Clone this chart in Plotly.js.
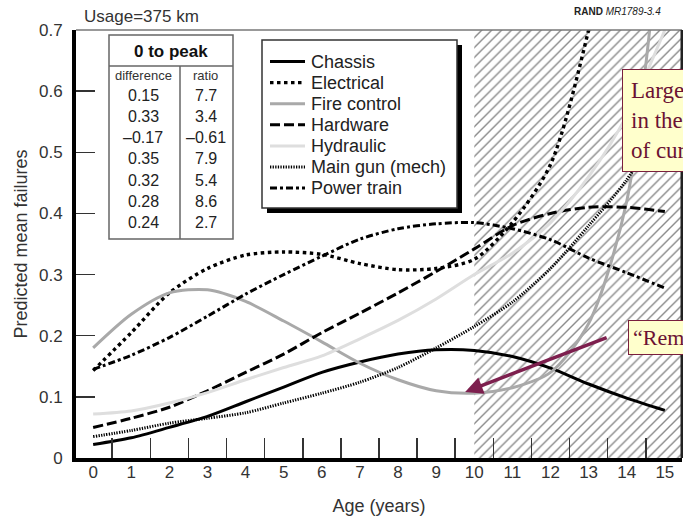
<!DOCTYPE html>
<html>
<head>
<meta charset="utf-8">
<script src="https://cdn.plot.ly/plotly-3.0.1.min.js"></script>
<style>
  html, body { margin: 0; padding: 0; background: #fff; }
  #chart { width: 683px; height: 521px; }
</style>
</head>
<body>
<div id="chart"></div>
<script>
// ---- data ----
const ages = [0, 1, 2, 3, 4, 5, 6, 7, 8, 9, 10, 11, 12, 13, 14, 15];
const chassis     = [0.022, 0.033, 0.050, 0.068, 0.092, 0.116, 0.140, 0.157, 0.170, 0.177, 0.176, 0.166, 0.147, 0.121, 0.098, 0.078];
const electrical  = [0.143, 0.205, 0.270, 0.310, 0.332, 0.337, 0.333, 0.318, 0.308, 0.310, 0.325, 0.385, 0.480, 0.700, 1.000, 1.400];
const fireControl = [0.180, 0.235, 0.270, 0.275, 0.256, 0.224, 0.190, 0.155, 0.128, 0.110, 0.106, 0.115, 0.140, 0.220, 0.420, 0.950];
const hardware    = [0.050, 0.065, 0.083, 0.110, 0.140, 0.170, 0.205, 0.237, 0.270, 0.305, 0.342, 0.380, 0.400, 0.410, 0.410, 0.403];
const hydraulic   = [0.072, 0.077, 0.090, 0.107, 0.128, 0.148, 0.167, 0.195, 0.225, 0.260, 0.300, 0.335, 0.385, 0.460, 0.560, 0.700];
const mainGun     = [0.035, 0.045, 0.057, 0.065, 0.074, 0.090, 0.106, 0.124, 0.148, 0.180, 0.215, 0.255, 0.310, 0.380, 0.455, 0.560];
const powerTrain  = [0.145, 0.168, 0.197, 0.232, 0.268, 0.300, 0.330, 0.358, 0.375, 0.383, 0.385, 0.375, 0.357, 0.327, 0.303, 0.278];

const seriesNames = ['Chassis', 'Electrical', 'Fire control', 'Hardware', 'Hydraulic', 'Main gun (mech)', 'Power train'];

// "0 to peak" table
const tableTitle = '0 to peak';
const tableHeaders = ['difference', 'ratio'];
const differences = ['0.15', '0.33', '–0.17', '0.35', '0.32', '0.28', '0.24'];
const ratios = ['7.7', '3.4', '–0.61', '7.9', '5.4', '8.6', '2.7'];

const yTickVals = [0, 0.1, 0.2, 0.3, 0.4, 0.5, 0.6, 0.7];
const yTickText = ['0', '0.1', '0.2', '0.3', '0.4', '0.5', '0.6', '0.7'];

// projected (hatched) period
const projectionStart = 10;
const projectionEnd = 15.6;

// ---- layout helpers (pixel -> paper) ----
const M = {l: 76, r: 1, t: 30, b: 63};
const W = 683, H = 521;
const PW = W - M.l - M.r, PH = H - M.t - M.b;
const X = px => (px - M.l) / PW;
const Y = py => (H - M.b - py) / PH;

const FONT = 'Liberation Sans, Arial, Helvetica, sans-serif';
const SERIF = 'Liberation Serif, Times New Roman, serif';

const styles = [
  {color: '#000000', dash: 'solid', width: 3},
  {color: '#000000', dash: '3.5px,3.5px', width: 3.4},
  {color: '#a9a9a9', dash: 'solid', width: 3},
  {color: '#000000', dash: '10px,4px', width: 3},
  {color: '#dedede', dash: 'solid', width: 3},
  {color: '#000000', dash: '1.3px,1.3px', width: 3},
  {color: '#000000', dash: '7px,3px,3px,3px', width: 3}
];
const seriesData = [chassis, electrical, fireControl, hardware, hydraulic, mainGun, powerTrain];

const traces = [{
  x: [projectionStart, projectionEnd, projectionEnd, projectionStart, projectionStart],
  y: [0, 0, yTickVals[yTickVals.length - 1], yTickVals[yTickVals.length - 1], 0],
  mode: 'lines', line: {width: 0, color: 'rgba(0,0,0,0)'},
  fill: 'toself', fillcolor: 'rgba(255,255,255,0)',
  fillpattern: {shape: '/', size: 7, fgcolor: '#8a8a8a', bgcolor: '#ffffff', solidity: 0.2},
  showlegend: false, hoverinfo: 'skip'
}];
seriesNames.forEach((name, i) => {
  traces.push({
    x: ages, y: seriesData[i], name: name, mode: 'lines', showlegend: false,
    line: {color: styles[i].color, dash: styles[i].dash, width: styles[i].width, shape: 'spline', smoothing: 0.8}
  });
});

const shapes = [
  // top border
  {type: 'line', xref: 'paper', yref: 'paper', x0: 0, x1: 1, y0: 1, y1: 1, line: {color: '#777', width: 1.5}},
  // right border
  {type: 'line', xref: 'paper', yref: 'paper', x0: 1, x1: 1, y0: 0, y1: 1, line: {color: '#222', width: 3}},
  // table box
  {type: 'rect', xref: 'paper', yref: 'paper', x0: X(109), x1: X(233), y0: Y(239), y1: Y(35), line: {color: '#666', width: 1.5}, fillcolor: '#fff'},
  {type: 'line', xref: 'paper', yref: 'paper', x0: X(109), x1: X(233), y0: Y(66), y1: Y(66), line: {color: '#666', width: 1.5}},
  {type: 'line', xref: 'paper', yref: 'paper', x0: X(180), x1: X(180), y0: Y(66), y1: Y(239), line: {color: '#666', width: 1.5}},
  // legend shadow + box
  {type: 'rect', xref: 'paper', yref: 'paper', x0: X(267), x1: X(462), y0: Y(213), y1: Y(45), line: {width: 0}, fillcolor: '#000'},
  {type: 'rect', xref: 'paper', yref: 'paper', x0: X(262), x1: X(457), y0: Y(208), y1: Y(40), line: {color: '#333', width: 1.5}, fillcolor: '#fff'}
];

const annotations = [
  {xref: 'paper', yref: 'paper', x: X(171), y: Y(52), text: '<b>' + tableTitle + '</b>', showarrow: false, xanchor: 'center', yanchor: 'middle', font: {family: FONT, size: 17, color: '#111'}},
  {xref: 'paper', yref: 'paper', x: X(143), y: Y(75), text: tableHeaders[0], showarrow: false, xanchor: 'center', yanchor: 'middle', font: {family: FONT, size: 13, color: '#333'}},
  {xref: 'paper', yref: 'paper', x: X(205), y: Y(75), text: tableHeaders[1], showarrow: false, xanchor: 'center', yanchor: 'middle', font: {family: FONT, size: 13, color: '#333'}},
  // top-left label and source
  {xref: 'paper', yref: 'paper', x: X(82), y: Y(17), text: 'Usage=375 km', showarrow: false, xanchor: 'left', yanchor: 'middle', font: {family: FONT, size: 17, color: '#333'}},
  {xref: 'paper', yref: 'paper', x: X(572), y: Y(12), text: '<b>RAND</b> <i>MR1789-3.4</i>', showarrow: false, xanchor: 'left', yanchor: 'middle', font: {family: FONT, size: 10, color: '#222'}},
  // callout boxes
  {xref: 'paper', yref: 'paper', x: X(622), y: Y(69), text: 'Large variance<br>in the tails<br>of curves', align: 'left', showarrow: false, xanchor: 'left', yanchor: 'top',
   bgcolor: '#ffffcc', bordercolor: '#7a1f3d', borderwidth: 1, borderpad: 8, font: {family: SERIF, size: 23, color: '#6b1233'}},
  {xref: 'paper', yref: 'paper', x: X(628), y: Y(320), text: '“Remanufactured”', align: 'left', showarrow: false, xanchor: 'left', yanchor: 'top',
   bgcolor: '#ffffcc', bordercolor: '#7a1f3d', borderwidth: 1, borderpad: 4, font: {family: SERIF, size: 22, color: '#6b1233'}},
  // arrow
  {xref: 'x', yref: 'y', x: 9.76, y: 0.108, ax: 143, ay: -55, text: '', showarrow: true, arrowhead: 2, arrowsize: 1, arrowwidth: 3.5, arrowcolor: '#7d1f4e'}
];
differences.forEach((d, i) => {
  const py = 95 + i * 21.3;
  annotations.push({xref: 'paper', yref: 'paper', x: X(143), y: Y(py), text: d, showarrow: false, xanchor: 'center', yanchor: 'middle', font: {family: FONT, size: 16, color: '#222'}});
  annotations.push({xref: 'paper', yref: 'paper', x: X(206), y: Y(py), text: ratios[i], showarrow: false, xanchor: 'center', yanchor: 'middle', font: {family: FONT, size: 16, color: '#222'}});
});

// custom legend (boxed, with drop shadow)
seriesNames.forEach((name, i) => {
  const py = 61.5 + i * 21.1;
  shapes.push({type: 'line', xref: 'paper', yref: 'paper', x0: X(270), x1: X(305), y0: Y(py), y1: Y(py),
    line: {color: styles[i].color, dash: styles[i].dash, width: styles[i].width}});
  annotations.push({xref: 'paper', yref: 'paper', x: X(309), y: Y(py), text: name, showarrow: false, xanchor: 'left', yanchor: 'middle',
    font: {family: FONT, size: 18, color: '#222'}});
});

const layout = {
  width: W, height: H, margin: M,
  paper_bgcolor: '#fff', plot_bgcolor: '#fff',
  font: {family: FONT, color: '#222'},
  showlegend: false,
  xaxis: {
    range: [-0.45, 15.45], tickmode: 'array', tickvals: ages, ticktext: ages.map(String),
    ticks: '', showgrid: false, zeroline: false,
    showline: true, linecolor: '#000', linewidth: 4,
    tickfont: {family: FONT, size: 17, color: '#333'}, ticklabelstandoff: -4,
    minor: {tick0: 0.5, dtick: 1, ticks: 'inside', ticklen: 20, tickwidth: 1.5, tickcolor: '#333', showgrid: false},
    title: {text: 'Age (years)', font: {family: FONT, size: 18, color: '#333'}, standoff: 19}
  },
  yaxis: {
    range: [0, 0.7], tickmode: 'array', tickvals: yTickVals, ticktext: yTickText,
    ticks: 'inside', ticklen: 19, tickwidth: 1.5, tickcolor: '#333',
    showgrid: false, zeroline: false,
    showline: true, linecolor: '#000', linewidth: 4,
    tickfont: {family: FONT, size: 17, color: '#333'}, ticklabelstandoff: 6,
    title: {text: 'Predicted mean failures', font: {family: FONT, size: 18, color: '#333'}, standoff: 8}
  },
  shapes: shapes,
  annotations: annotations
};

Plotly.newPlot('chart', traces, layout, {displayModeBar: false, staticPlot: true});
</script>
</body>
</html>
